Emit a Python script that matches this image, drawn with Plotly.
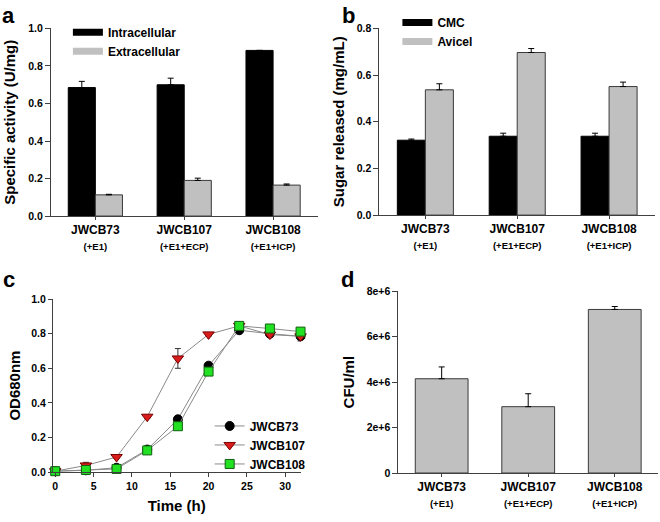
import plotly.graph_objects as go

# ---------------- data ----------------
strains = ["JWCB73", "JWCB107", "JWCB108"]
strain_notes = ["(+E1)", "(+E1+ECP)", "(+E1+ICP)"]

# panel a: specific activity (U/mg)
intracellular = [0.685, 0.700, 0.883]
intracellular_err = [0.033, 0.035, 0.0]
extracellular = [0.113, 0.190, 0.165]
extracellular_err = [0.003, 0.012, 0.006]

# panel b: sugar released (mg/mL)
cmc = [0.321, 0.338, 0.338]
cmc_err = [0.005, 0.013, 0.013]
avicel = [0.537, 0.697, 0.551]
avicel_err = [0.026, 0.017, 0.019]

# panel c: growth curve OD680nm
time_h = [0, 4, 8, 12, 16, 20, 24, 28, 32]
od_73 = [0.005, 0.010, 0.025, 0.130, 0.305, 0.615, 0.820, 0.800, 0.785]
od_73_err = [0.002, 0.003, 0.005, 0.006, 0.010, 0.010, 0.010, 0.008, 0.027]
od_107 = [0.005, 0.038, 0.087, 0.320, 0.657, 0.796, 0.845, 0.795, 0.785]
od_107_err = [0.002, 0.018, 0.008, 0.010, 0.057, 0.010, 0.010, 0.010, 0.012]
od_108 = [0.005, 0.012, 0.018, 0.125, 0.265, 0.581, 0.845, 0.830, 0.812]
od_108_err = [0.002, 0.003, 0.004, 0.006, 0.010, 0.010, 0.010, 0.008, 0.010]

# panel d: CFU/ml
cfu = [4.15e6, 2.92e6, 7.20e6]
cfu_err = [0.52e6, 0.57e6, 0.13e6]
cfu_ticks = [0, 2e6, 4e6, 6e6, 8e6]
cfu_ticktext = ["0", "2e+6", "4e+6", "6e+6", "8e+6"]

# ---------------- style ----------------
FONT = "Liberation Sans, Arial, sans-serif"
GRAY = "#c0c0c0"
EDGE = "#3a3a3a"
AX = "#404040"
W, H = 660, 522

cat_ticktext = [f"<b>{s}</b><br><span style='font-size:9.5px'><b>{n}</b></span>"
                for s, n in zip(strains, strain_notes)]


def err(arr, plus_only=True):
    d = dict(type="data", array=arr, color="black", thickness=1, width=3, visible=True)
    if plus_only:
        d["symmetric"] = False
        d["arrayminus"] = [0] * len(arr)
    return d


fig = go.Figure()

# panel a
fig.add_trace(go.Bar(x=strains, y=intracellular, error_y=err(intracellular_err),
                     marker=dict(color="black", line=dict(color="black", width=1)),
                     xaxis="x", yaxis="y", showlegend=False, offsetgroup="1"))
fig.add_trace(go.Bar(x=strains, y=extracellular, error_y=err(extracellular_err),
                     marker=dict(color=GRAY, line=dict(color=EDGE, width=1)),
                     xaxis="x", yaxis="y", showlegend=False, offsetgroup="2"))
# legend entries (legend swatches only)
fig.add_trace(go.Scatter(x=[None], y=[None], mode="lines", name="Intracellular",
                         line=dict(color="black", width=7), xaxis="x", yaxis="y", legend="legend"))
fig.add_trace(go.Scatter(x=[None], y=[None], mode="lines", name="Extracellular",
                         line=dict(color=GRAY, width=7), xaxis="x", yaxis="y", legend="legend"))

# panel b
fig.add_trace(go.Bar(x=strains, y=cmc, error_y=err(cmc_err),
                     marker=dict(color="black", line=dict(color="black", width=1)),
                     xaxis="x2", yaxis="y2", showlegend=False, offsetgroup="1"))
fig.add_trace(go.Bar(x=strains, y=avicel, error_y=err(avicel_err),
                     marker=dict(color=GRAY, line=dict(color=EDGE, width=1)),
                     xaxis="x2", yaxis="y2", showlegend=False, offsetgroup="2"))
fig.add_trace(go.Scatter(x=[None], y=[None], mode="lines", name="CMC",
                         line=dict(color="black", width=7), xaxis="x2", yaxis="y2", legend="legend2"))
fig.add_trace(go.Scatter(x=[None], y=[None], mode="lines", name="Avicel",
                         line=dict(color=GRAY, width=7), xaxis="x2", yaxis="y2", legend="legend2"))

# panel c
series_c = [
    ("JWCB73", od_73, od_73_err, dict(symbol="circle", size=9, color="black", line=dict(color="black", width=1))),
    ("JWCB107", od_107, od_107_err, dict(symbol="triangle-down", size=10, color="#d91c1c", line=dict(color="#7a0000", width=1))),
    ("JWCB108", od_108, od_108_err, dict(symbol="square", size=9, color="#22e022", line=dict(color="#106010", width=1))),
]
for name, ys, es, mk in series_c:
    fig.add_trace(go.Scatter(x=time_h, y=ys, name=name, mode="lines+markers",
                             line=dict(color="#8a8a8a", width=1), marker=mk,
                             error_y=dict(type="data", array=es, color="#333333", thickness=1, width=3),
                             cliponaxis=False, xaxis="x3", yaxis="y3", legend="legend3"))

# panel d
fig.add_trace(go.Bar(x=strains, y=cfu, error_y=err(cfu_err),
                     marker=dict(color=GRAY, line=dict(color=EDGE, width=1)),
                     xaxis="x4", yaxis="y4", showlegend=False))


def px_x(p):
    return p / W


def px_y(p):
    return 1 - p / H


base_axis = dict(showline=True, linecolor=AX, linewidth=1, ticks="outside", tickcolor=AX,
                 ticklen=5, showgrid=False, zeroline=False,
                 tickfont=dict(family=FONT, size=10.5, color="black", weight="bold"))
cat_axis = dict(base_axis, type="category", range=[-0.5, 2.5], tickmode="array",
                tickvals=strains, ticktext=cat_ticktext, ticklen=3,
                tickfont=dict(family=FONT, size=12, color="black", weight="bold"))
title_font = dict(family=FONT, size=15, color="black", weight="bold")
legend_font = dict(family=FONT, size=12, color="black", weight="bold")

fig.update_layout(
    width=W, height=H,
    margin=dict(l=0, r=0, t=0, b=0),
    paper_bgcolor="white", plot_bgcolor="white",
    barmode="group", bargap=0.39, bargroupgap=0,
    font=dict(family=FONT, color="black"),
    xaxis=dict(cat_axis, domain=[px_x(50), px_x(317)], anchor="y"),
    yaxis=dict(base_axis, domain=[px_y(215), px_y(23)], range=[0, 1.0], dtick=0.2,
               tickformat=".1f", anchor="x",
               title=dict(text="Specific activity (U/mg)", font=title_font, standoff=8)),
    xaxis2=dict(cat_axis, domain=[px_x(379), px_x(655)], anchor="y2"),
    yaxis2=dict(base_axis, domain=[px_y(214), px_y(23)], range=[0, 0.8], dtick=0.2,
                tickformat=".1f", anchor="x2",
                title=dict(text="Sugar released (mg/mL)", font=title_font, standoff=8)),
    xaxis3=dict(base_axis, domain=[px_x(52), px_x(300)], range=[-0.3, 32], anchor="y3",
                tickvals=[0, 5, 10, 15, 20, 25, 30], ticklen=4,
                title=dict(text="Time (h)", font=title_font, standoff=9)),
    yaxis3=dict(base_axis, domain=[px_y(477), px_y(300)], range=[0, 1.0], dtick=0.2,
                tickformat=".1f", anchor="x3", ticklen=4,
                title=dict(text="OD680nm", font=title_font, standoff=6)),
    xaxis4=dict(cat_axis, domain=[px_x(398), px_x(658)], anchor="y4"),
    yaxis4=dict(base_axis, domain=[px_y(478), px_y(292)], range=[0, 8e6], anchor="x4",
                tickmode="array", tickvals=cfu_ticks, ticktext=cfu_ticktext,
                title=dict(text="CFU/ml", font=title_font, standoff=8)),
    legend=dict(x=px_x(67), y=px_y(12), xanchor="left", yanchor="top", bgcolor="rgba(0,0,0,0)",
                font=legend_font, itemwidth=30, tracegroupgap=0),
    legend2=dict(x=px_x(397), y=px_y(2), xanchor="left", yanchor="top", bgcolor="rgba(0,0,0,0)",
                 font=legend_font, itemwidth=30, tracegroupgap=0),
    legend3=dict(x=px_x(209), y=px_y(415), xanchor="left", yanchor="top", bgcolor="rgba(0,0,0,0)",
                 font=legend_font, itemwidth=30, tracegroupgap=0),
)

letter_font = dict(family=FONT, size=22, color="black", weight="bold")
for txt, xp, yp in [("a", -1, -5), ("b", 340, -5), ("c", 0, 265), ("d", 339, 265)]:
    fig.add_annotation(text=txt, x=px_x(xp), y=px_y(yp), xref="paper", yref="paper",
                       xanchor="left", yanchor="top", showarrow=False, font=letter_font)

fig.write_html("out.html", config={"displayModeBar": False},
               post_script="document.body.style.margin='0';")
